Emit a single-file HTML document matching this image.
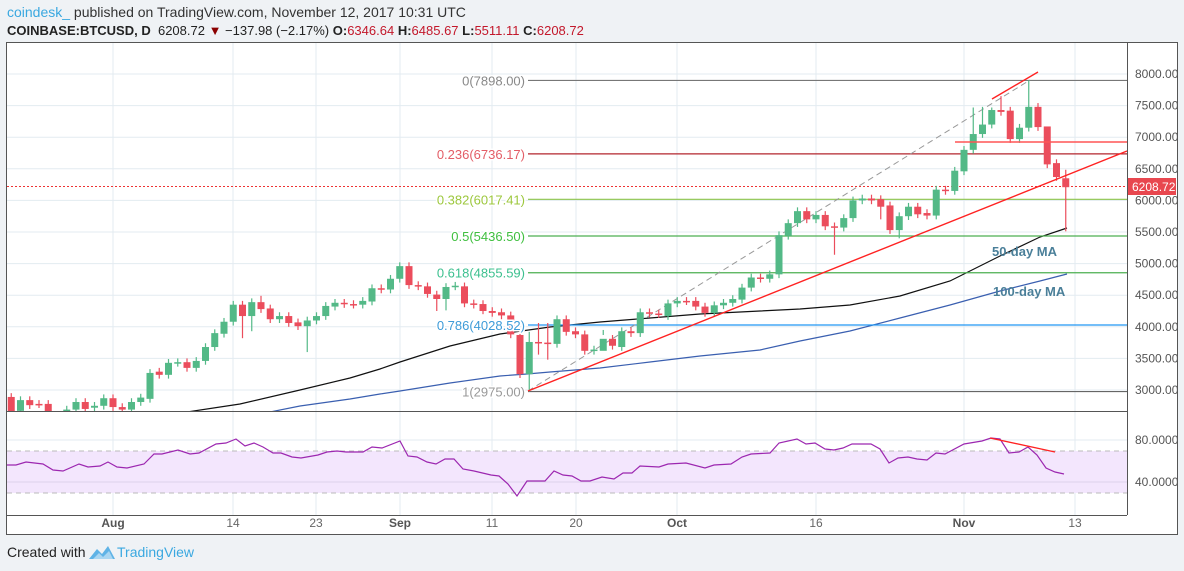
<!DOCTYPE html>
<html><head><meta charset="utf-8"><style>
body{margin:0;width:1184px;height:571px;background:#eff2f5;font-family:"Liberation Sans",sans-serif;overflow:hidden;position:relative}
.h1{position:absolute;left:7px;top:4px;font-size:14px;color:#333}
.h2{position:absolute;left:7px;top:23px;font-size:13px;color:#222}
.r{color:#c3182b}
svg{position:absolute;left:0;top:0}
</style></head><body>
<div class="h1"><span style="color:#3aa8e0">coindesk_</span> published on TradingView.com, November 12, 2017 10:31 UTC</div>
<div class="h2"><b>COINBASE:BTCUSD, D</b>&nbsp; 6208.72 <span style="color:#8b0000">▼</span> −137.98 (−2.17%) <b>O:</b><span class="r">6346.64</span> <b>H:</b><span class="r">6485.67</span> <b>L:</b><span class="r">5511.11</span> <b>C:</b><span class="r">6208.72</span></div>
<svg id="s" width="1184" height="571" xmlns="http://www.w3.org/2000/svg" font-family="Liberation Sans, sans-serif"></svg>
<div style="position:absolute;left:7px;top:544px;font-size:14px;color:#222">Created with</div>
<svg width="30" height="20" style="left:87px;top:543px"><path d="M2 16 L10 6 L15 11 L21 3 L28 16 Z" fill="#5fb3e6"/><path d="M6 16 L12 10 L16 14 L22 8 L26 16Z" fill="#a9d6f2"/></svg>
<div style="position:absolute;left:117px;top:544px;font-size:14px;color:#3aa8e0">TradingView</div>
<script>
const s=document.getElementById('s');
let h='';
const Y=p=>74+(8000-p)*0.0632;
const X=d=>113+d*9.25;
// frame
h+='<rect x="6.5" y="42.5" width="1171" height="492" fill="#fff" stroke="#555"/>';
// grid
const vx=[[113,'Aug',1],[233,'14'],[316,'23'],[400,'Sep',1],[492,'11'],[576,'20'],[677,'Oct',1],[816,'16'],[964,'Nov',1],[1075,'13']];
for(let p=3000;p<=8000;p+=500)h+=`<line x1="7" x2="1127" y1="${Y(p)}" y2="${Y(p)}" stroke="#e3ebf1"/>`;
vx.forEach(v=>{h+=`<line x1="${v[0]}" x2="${v[0]}" y1="43" y2="515" stroke="#e3ebf1"/>`;h+=`<text x="${v[0]}" y="527" font-size="12" text-anchor="middle" fill="${v[2]?'#555':'#666'}" ${v[2]?'font-weight="bold"':''}>${v[1]}</text>`});
// right axis labels
for(let p=3000;p<=8000;p+=500)h+=`<text x="1135" y="${Y(p)+4}" font-size="12" fill="#555">${p}.00</text>`;
// RSI
h+='<rect x="7" y="451" width="1120" height="42" fill="#f3e6fd"/>';
h+='<line x1="7" x2="1127" y1="440" y2="440" stroke="#e3ebf1"/><line x1="7" x2="1127" y1="482" y2="482" stroke="#dcd2ec"/>';
h+='<line x1="7" x2="1127" y1="451" y2="451" stroke="#bbb" stroke-dasharray="5,4"/><line x1="7" x2="1127" y1="493" y2="493" stroke="#bbb" stroke-dasharray="5,4"/>';
h+='<text x="1135" y="444" font-size="12" fill="#555">80.0000</text><text x="1135" y="486" font-size="12" fill="#555">40.0000</text>';
const rsi=[[7,465],[16,465],[26,462],[43,464],[53,470],[63,471],[79,464],[88,467],[100,466],[108,462],[117,467],[127,468],[144,464],[154,454],[162,454],[178,450],[190,454],[199,453],[216,444],[226,443],[236,439],[245,446],[254,443],[263,447],[273,453],[281,453],[292,457],[301,458],[318,455],[327,452],[337,451],[346,452],[363,452],[372,447],[382,448],[400,441],[408,456],[417,457],[427,462],[436,464],[445,459],[454,459],[463,469],[474,471],[491,475],[499,476],[508,484],[517,496],[527,481],[545,481],[554,471],[563,475],[572,476],[581,481],[590,481],[602,477],[614,479],[623,473],[632,473],[640,466],[659,467],[668,464],[686,463],[705,468],[714,465],[731,464],[742,457],[751,454],[770,453],[779,443],[797,439],[806,444],[815,443],[825,449],[834,450],[843,448],[852,444],[871,444],[880,449],[889,463],[898,458],[908,457],[917,459],[927,460],[936,453],[945,454],[964,444],[982,441],[991,438],[1000,439],[1009,453],[1019,452],[1028,447],[1037,455],[1046,468],[1055,472],[1064,474]];
h+=`<polyline points="${rsi.map(p=>p.join(',')).join(' ')}" fill="none" stroke="#9c27b0" stroke-width="1.2"/>`;
h+='<line x1="990" y1="438" x2="1055" y2="452" stroke="#f22" stroke-width="1.3"/>';
// clip main
h+='<defs><clipPath id="c"><rect x="7" y="43" width="1120" height="368"/></clipPath></defs><g clip-path="url(#c)">';
// fib lines
const fib=[[7898,'0(7898.00)','#888','#777'],[6736.17,'0.236(6736.17)','#e35d66','#b3262e'],[6017.41,'0.382(6017.41)','#9cc73c','#8bc34a'],[5436.5,'0.5(5436.50)','#3fbf3f','#4caf50'],[4855.59,'0.618(4855.59)','#3cc08f','#4caf50'],[4028.52,'0.786(4028.52)','#3d9bd8','#2196f3'],[2975,'1(2975.00)','#999','#666']];
// MAs
const ma50=[[150,420],[187,412],[240,404],[300,390],[350,378],[380,369],[400,362],[450,346],[500,334],[550,327],[600,322],[650,318],[700,314],[760,311],[800,309],[850,305],[900,296],[950,281],[1000,256],[1040,237],[1067,228]];
const ma100=[[230,420],[270,412],[300,406],[350,399],[380,394],[400,391],[450,383],[500,376],[527,374],[550,372],[600,368],[650,362],[700,356],[760,350],[800,341],[850,331],[900,318],[950,305],[1000,291],[1040,281],[1067,274]];
h+=`<polyline points="${ma50.map(p=>p.join(',')).join(' ')}" fill="none" stroke="#111" stroke-width="1.2"/>`;
h+=`<polyline points="${ma100.map(p=>p.join(',')).join(' ')}" fill="none" stroke="#3a5fb0" stroke-width="1.2"/>`;
fib.forEach(f=>{h+=`<line x1="528" x2="1127" y1="${Y(f[0])}" y2="${Y(f[0])}" stroke="${f[3]}" stroke-width="1.2"/>`});
// dashed diag
h+='<line x1="528" y1="391" x2="1030" y2="80" stroke="#999" stroke-dasharray="6,4"/>';
// price dotted
h+=`<line x1="7" x2="1127" y1="186.5" y2="186.5" stroke="#e33" stroke-dasharray="2,2"/>`;
// candles
const D=[[2890,2650],[2670,2840],[2840,2760],[2780,2775],[2780,2600],[2600,2550],[2600,2690],[2690,2810],[2810,2700],[2720,2750],[2750,2870],
[2870,2730],[2730,2690],[2690,2810],[2810,2880],[2860,3270],[3290,3240],[3240,3430],[3430,3440],[3440,3350],[3350,3460],[3460,3680],[3680,3900],[3890,4080],[4080,4350],[4350,4170],[4170,4390],[4390,4280],[4290,4120],[4120,4170],[4170,4060],[4070,4010],[4010,4100],[4100,4170],[4170,4330],[4320,4380],[4380,4360],[4360,4350],[4350,4410],[4400,4610],[4610,4590],[4590,4760],
[4760,4960],[4960,4660],[4660,4640],[4640,4520],[4510,4440],[4440,4630],[4640,4650],[4640,4370],[4370,4350],[4360,4250],[4250,4220],[4230,4180],[4180,3880],[3870,3250],[3250,3760],[3760,3750],[3750,3740],[3730,4120],[4120,3920],[3930,3880],[3880,3620],[3620,3640],[3620,3810],[3810,3700],[3680,3930],[3930,3900],[3900,4230],[4230,4210],[4210,4200],[4170,4370],
[4370,4410],[4410,4405],[4410,4320],[4320,4220],[4220,4340],[4340,4380],[4380,4440],[4430,4620],[4620,4780],[4780,4760],[4760,4830],[4830,5450],[5440,5640],[5640,5830],[5830,5700],[5700,5770],[5770,5590],[5590,5570],[5570,5720],[5720,6000],[6000,6030],[6030,6000],[6020,5900],[5920,5530],[5530,5750],[5750,5900],[5900,5780],[5800,5760],[5760,6170],[6170,6150],[6150,6470],
[6460,6800],[6800,7050],[7050,7200],[7200,7430],[7430,7400],[7420,6970],[6970,7150],[7150,7480],[7480,7160],[7170,6570],[6590,6370],[6350,6209]];
const ov={45:{l:2975,h:3920},99:{h:7898},103:{l:5511,h:6485},78:{l:5140},101:{h:6880},96:{h:7650},21:{l:3600},85:{l:5400},35:{l:4250},14:{l:3820},15:{l:3930},16:{h:4490},83:{l:5700},36:{l:4260},40:{l:4200},47:{h:4060,l:3480},46:{h:4060,l:3560},53:{l:3950},95:{h:7470},94:{h:7480},93:{h:7470}};
D.forEach((c,i)=>{const d=i-11,x=X(d),o=c[0],cl=c[1];let hi=Math.max(o,cl)+60,lo=Math.min(o,cl)-60;if(ov[d]){if(ov[d].h)hi=ov[d].h;if(ov[d].l)lo=ov[d].l}
const col=cl>=o?'#53b987':'#eb4d5c';const t=Y(Math.max(o,cl)),b=Y(Math.min(o,cl));
h+=`<line x1="${x}" x2="${x}" y1="${Y(hi)}" y2="${Y(lo)}" stroke="${col}" stroke-width="1.2"/>`;
h+=`<rect x="${x-3.5}" y="${t}" width="7" height="${Math.max(1.5,b-t)}" fill="${col}"/>`});
// red lines
h+='<line x1="528" y1="391" x2="1127" y2="151" stroke="#f22" stroke-width="1.4"/>';
h+='<line x1="992" y1="99" x2="1038" y2="72" stroke="#f22" stroke-width="1.4"/>';
h+='<line x1="955" y1="142" x2="1127" y2="142" stroke="#f55" stroke-width="1.6"/>';
// fib labels
fib.forEach(f=>{h+=`<text x="525" y="${Y(f[0])+5}" font-size="13" text-anchor="end" fill="${f[2]}" stroke="#fff" stroke-width="3" paint-order="stroke">${f[1]}</text>`});
h+='<text x="992" y="256" font-size="13" font-weight="bold" fill="#4a7f99">50-day MA</text><text x="993" y="296" font-size="13" font-weight="bold" fill="#4a7f99">100-day MA</text>';
h+='</g>';
// panel lines
h+='<line x1="7" x2="1127" y1="411.5" y2="411.5" stroke="#555"/><line x1="7" x2="1127" y1="515.5" y2="515.5" stroke="#555"/><line x1="1127.5" x2="1127.5" y1="43" y2="515" stroke="#555"/>';
h+='<rect x="1128" y="178" width="48" height="17" fill="#e8474f"/><text x="1132" y="191" font-size="12" fill="#fff">6208.72</text>';
s.innerHTML=h;
</script>
</body></html>
